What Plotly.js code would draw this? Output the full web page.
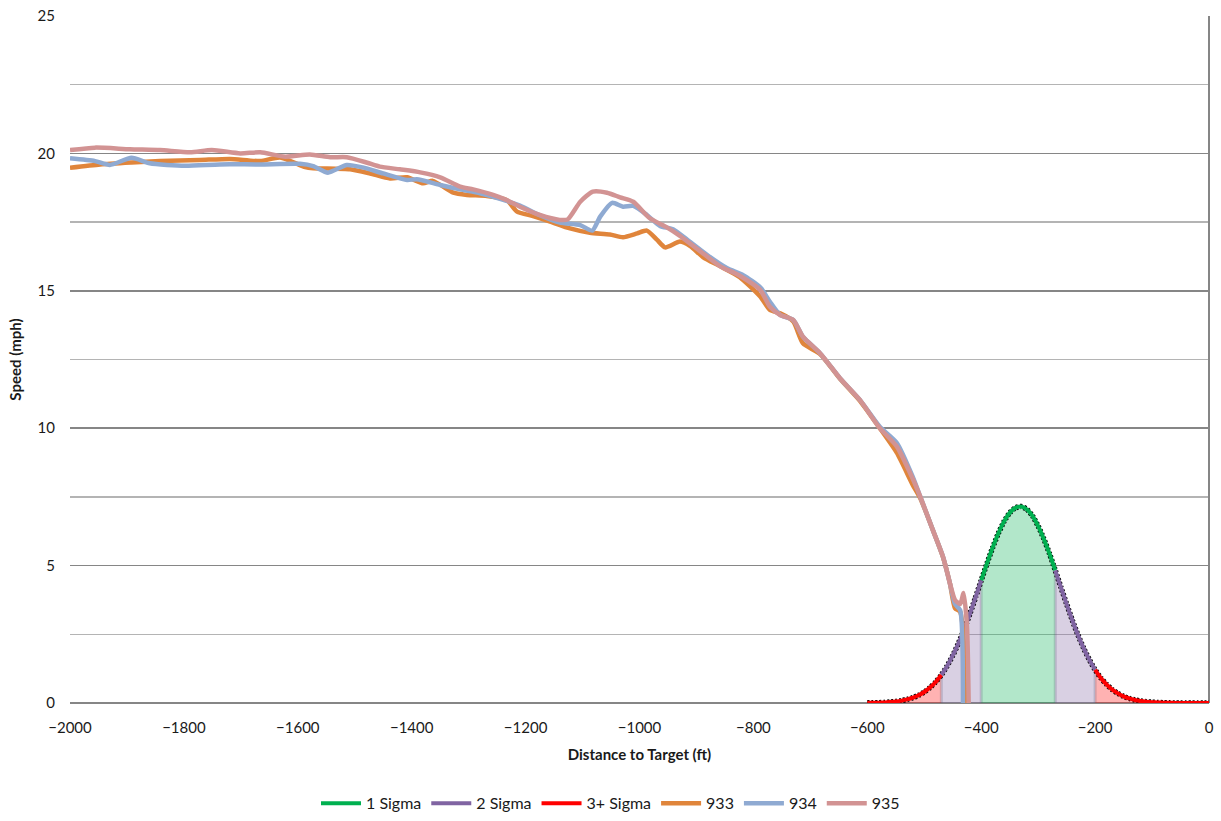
<!DOCTYPE html>
<html>
<head>
<meta charset="utf-8">
<script src="https://cdn.plot.ly/plotly-3.0.1.min.js"></script>
<style>html,body{margin:0;padding:0;background:#fff;}#chart{width:1221px;height:821px;}</style>
</head>
<body>
<div id="chart"></div>
<script>
// ---- Data ----
// Bell curve (distance ft, height)
const bellX = [-600,-590,-580,-570,-560,-550,-540,-530,-520,-510,-500,-490,-480,-470,-460,-450,-440,-430,-420,-410,-400,-390,-380,-370,-360,-350,-340,-330,-320,-310,-300,-290,-280,-270,-260,-250,-240,-230,-220,-210,-200,-190,-180,-170,-160,-150,-140,-130,-120,-110,-100,-90,-80,-70,-60,-50,-40,-30,-20,-10,0];
const bellY = [0.005,0.008,0.013,0.022,0.036,0.056,0.087,0.131,0.194,0.282,0.40,0.56,0.765,1.02,1.34,1.73,2.17,2.68,3.24,3.84,4.46,5.07,5.65,6.17,6.60,6.92,7.10,7.15,7.05,6.81,6.44,5.97,5.43,4.83,4.21,3.60,3.01,2.47,1.99,1.57,1.21,0.91,0.68,0.49,0.35,0.243,0.166,0.111,0.073,0.047,0.029,0.018,0.011,0.006,0.004,0.002,0.001,0.001,0,0,0];
// Sigma band edges (ft)
const sigma1Edges = [-400, -270];
const sigma2Edges = [-470, -200];

// Run 933
const x933 = [-2000,-1947,-1892,-1842,-1772,-1719,-1666,-1631,-1587,-1573,-1508,-1473,-1438,-1408,-1380,-1363,-1327,-1303,-1268,-1233,-1215,-1187,-1157,-1122,-1087,-1052,-1029,-1004,-987,-969,-955,-929,-911,-888,-859,-824,-788,-771,-753,-730,-713,-683,-648,-613,-578,-548,-520,-507,-485,-467,-455,-446,-437,-425];
const y933 = [19.48,19.6,19.67,19.72,19.76,19.8,19.72,19.85,19.5,19.46,19.42,19.27,19.09,19.13,18.91,19.0,18.57,18.49,18.45,18.3,17.88,17.72,17.52,17.27,17.11,17.05,16.95,17.09,17.19,16.85,16.58,16.79,16.63,16.22,15.9,15.5,14.79,14.3,14.18,13.88,13.09,12.7,11.8,11.0,10.0,9.1,7.93,7.45,6.3,5.3,4.36,3.45,3.32,0];
// Run 934
const x934 = [-2000,-1956,-1930,-1892,-1860,-1798,-1737,-1666,-1596,-1573,-1547,-1514,-1486,-1450,-1408,-1391,-1350,-1315,-1280,-1245,-1210,-1175,-1140,-1104,-1083,-1069,-1048,-1029,-1011,-987,-964,-941,-917,-881,-846,-818,-788,-771,-753,-730,-713,-683,-648,-613,-578,-548,-520,-507,-485,-467,-455,-446,-437,-432];
const y934 = [19.82,19.72,19.58,19.84,19.64,19.55,19.6,19.6,19.62,19.54,19.3,19.58,19.49,19.27,19.03,19.06,18.85,18.69,18.55,18.35,18.1,17.75,17.48,17.39,17.19,17.7,18.2,18.06,18.09,17.76,17.36,17.24,16.87,16.3,15.82,15.57,15.13,14.6,14.12,13.94,13.33,12.73,11.82,11.03,10.05,9.46,8.22,7.51,6.3,5.32,4.36,3.6,3.38,0];
// Run 935
const x935 = [-2000,-1956,-1895,-1842,-1789,-1751,-1701,-1666,-1622,-1579,-1543,-1514,-1478,-1456,-1421,-1385,-1350,-1315,-1292,-1257,-1233,-1210,-1175,-1140,-1126,-1104,-1082,-1057,-1034,-1011,-982,-952,-929,-894,-859,-824,-788,-771,-753,-730,-713,-683,-648,-613,-578,-548,-520,-507,-485,-467,-455,-446,-437,-431,-425,-422];
const y935 = [20.12,20.21,20.15,20.12,20.04,20.12,20.0,20.04,19.88,19.96,19.86,19.86,19.66,19.52,19.42,19.31,19.13,18.79,18.69,18.49,18.3,18.06,17.76,17.58,17.6,18.24,18.61,18.57,18.4,18.24,17.64,17.31,17.0,16.45,15.9,15.55,15.03,14.42,14.12,13.94,13.33,12.73,11.82,11.03,10.0,9.33,8.15,7.51,6.3,5.32,4.36,3.75,3.6,4.0,2.8,0];

const runNames = ['933','934','935'];
const runColors = ['#E0853B','#8FAAD2','#D29393'];

// ---- Build traces ----
function seg(lo, hi) {
  const xs = [], ys = [];
  bellX.forEach((x, i) => { if (x >= lo && x <= hi) { xs.push(x); ys.push(bellY[i]); } });
  return {x: xs, y: ys};
}
const sGreen = seg(sigma1Edges[0], sigma1Edges[1]);
const sPurL = seg(sigma2Edges[0], sigma1Edges[0]);
const sPurR = seg(sigma1Edges[1], sigma2Edges[1]);
const sRedL = seg(bellX[0], sigma2Edges[0]);
const sRedR = seg(sigma2Edges[1], bellX[bellX.length - 1]);

const GREEN = '#00B050', PURPLE = '#8064A2', RED = '#FF0000';
const traces = [];
function fill(s, c) {
  traces.push({x: s.x, y: s.y, type: 'scatter', mode: 'lines', fill: 'tozeroy',
    fillcolor: c, line: {width: 0, shape: 'spline', smoothing: 0.6}, showlegend: false, hoverinfo: 'skip'});
}
fill(sRedL, 'rgba(255,0,0,0.3)');
fill(sRedR, 'rgba(255,0,0,0.3)');
fill(sPurL, 'rgba(128,100,162,0.3)');
fill(sPurR, 'rgba(128,100,162,0.3)');
fill(sGreen, 'rgba(0,176,80,0.3)');

// darker band edges
const edges = [sigma2Edges[0], sigma1Edges[0], sigma1Edges[1], sigma2Edges[1]];
edges.forEach(e => {
  const i = bellX.indexOf(e);
  traces.push({x: [e, e], y: [0, bellY[i]], type: 'scatter', mode: 'lines',
    line: {color: 'rgba(90,90,120,0.25)', width: 3}, showlegend: false, hoverinfo: 'skip'});
});

// black dotted outline
traces.push({x: bellX, y: bellY, type: 'scatter', mode: 'lines',
  line: {color: '#000', width: 5.5, dash: '2px,2px', shape: 'spline', smoothing: 0.6}, showlegend: false, hoverinfo: 'skip'});

function line(s, c, name, show, rank) {
  traces.push({x: s.x, y: s.y, type: 'scatter', mode: 'lines', name: name, legendgroup: name,
    legendrank: rank, showlegend: show, line: {color: c, width: 4, shape: 'spline', smoothing: 0.6}});
}
line(sGreen, GREEN, '1 Sigma', true, 1);
line(sPurL, PURPLE, '2 Sigma', true, 2);
line(sPurR, PURPLE, '2 Sigma', false, 2);
line(sRedL, RED, '3+ Sigma', true, 3);
line(sRedR, RED, '3+ Sigma', false, 3);

[[x933, y933], [x934, y934], [x935, y935]].forEach((d, i) => {
  traces.push({x: d[0], y: d[1], type: 'scatter', mode: 'lines', name: runNames[i],
    legendrank: 4 + i, line: {color: runColors[i], width: 4.5, shape: 'spline', smoothing: 0.6}});
});

const FONT = 'Lato, "Open Sans", sans-serif';
const TXT = '#1a1a1a';
const layout = {
  width: 1221, height: 821,
  margin: {l: 70, r: 12, t: 16, b: 118, autoexpand: false},
  paper_bgcolor: '#fff', plot_bgcolor: '#fff',
  font: {family: FONT, size: 15, color: TXT},
  showlegend: true,
  legend: {orientation: 'h', xref: 'container', x: 0.5, xanchor: 'center', y: -0.146, yanchor: 'middle',
    font: {family: FONT, size: 16, color: TXT}, itemwidth: 40, traceorder: 'normal'},
  xaxis: {range: [-2000, 0], dtick: 200, tick0: 0, showgrid: false, zeroline: true,
    zerolinecolor: '#868686', zerolinewidth: 1.5, showline: false, ticks: '',
    automargin: false, ticklabelstandoff: 14,
    tickfont: {family: FONT, size: 15, color: TXT},
    title: {text: '<b>Distance to Target (ft)</b>', font: {family: FONT, size: 15, color: TXT}, standoff: 14}},
  yaxis: {range: [0, 25], dtick: 5, tick0: 0, showgrid: true, gridcolor: '#868686', gridwidth: 1.5,
    minor: {dtick: 2.5, showgrid: true, gridcolor: '#B4B4B4', gridwidth: 1.5},
    zeroline: true, zerolinecolor: '#868686', zerolinewidth: 1.5, showline: false, ticks: '',
    automargin: false, ticklabelstandoff: 14,
    tickfont: {family: FONT, size: 15, color: TXT},
    title: {text: '<b>Speed (mph)</b>', font: {family: FONT, size: 15, color: TXT}, standoff: 12}}
};

Plotly.newPlot('chart', traces, layout, {displayModeBar: false, staticPlot: true});
</script>
</body>
</html>
